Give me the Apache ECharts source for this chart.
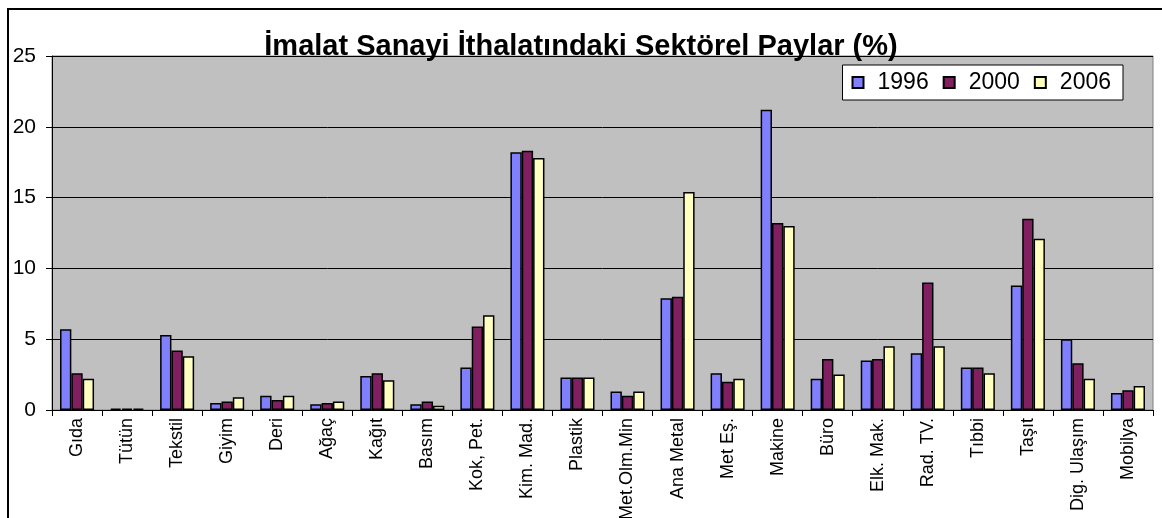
<!DOCTYPE html>
<html>
<head>
<meta charset="utf-8">
<script src="https://cdn.jsdelivr.net/npm/echarts@6/dist/echarts.min.js"></script>
<style>
  html, body { margin: 0; padding: 0; background: #fff; }
  #chart { width: 1162px; height: 518px; }
</style>
</head>
<body>
<div id="chart"></div>
<script>
var sectors = ['Gıda', 'Tütün', 'Tekstil', 'Giyim', 'Deri', 'Ağaç', 'Kağıt', 'Basım',
    'Kok, Pet.', 'Kim. Mad.', 'Plastik', 'Met.Olm.Min', 'Ana Metal', 'Met Eş.', 'Makine',
    'Büro', 'Elk. Mak.', 'Rad. TV.', 'Tıbbi', 'Taşıt', 'Dig. Ulaşım', 'Mobilya'];

var years = ['1996', '2000', '2006'];

var share1996 = [5.7, 0.1, 5.3, 0.5, 1.0, 0.4, 2.4, 0.4, 3.0, 18.2, 2.3, 1.3, 7.9, 2.6, 21.2,
    2.2, 3.5, 4.0, 3.0, 8.8, 5.0, 1.2];
var share2000 = [2.6, 0.1, 4.2, 0.6, 0.7, 0.5, 2.6, 0.6, 5.9, 18.3, 2.3, 1.0, 8.0, 2.0, 13.2,
    3.6, 3.6, 9.0, 3.0, 13.5, 3.3, 1.4];
var share2006 = [2.2, 0.1, 3.8, 0.9, 1.0, 0.6, 2.1, 0.3, 6.7, 17.8, 2.3, 1.3, 15.4, 2.2, 13.0,
    2.5, 4.5, 4.5, 2.6, 12.1, 2.2, 1.7];

var yTicks = [0, 5, 10, 15, 20, 25];

var colors = ['#8080ff', '#802060', '#ffffc0'];
var fontFamily = '"Liberation Sans", Arial, sans-serif';

var chart = echarts.init(document.getElementById('chart'));

function makeSeries(name, values, color){
    return {
        name: name,
        type: 'bar',
        data: values,
        barGap: '0%',
        barCategoryGap: '32%',
        itemStyle: {
            color: color,
            borderColor: '#000',
            borderWidth: 1.5
        }
    };
}

chart.setOption({
    animation: false,
    textStyle: { fontFamily: fontFamily },
    title: {
        text: 'İmalat Sanayi İthalatındaki Sektörel Paylar (%)',
        left: 'center',
        top: 27,
        textStyle: {
            fontFamily: fontFamily,
            fontSize: 29,
            fontWeight: 'bold',
            color: '#000'
        }
    },
    /* outer chart frame */
    graphic: [{
        type: 'rect',
        z: -1,
        shape: { x: 8, y: 9, width: 1200, height: 600 },
        style: { fill: 'none', stroke: '#000', lineWidth: 2 }
    }],
    legend: {
        data: years,
        right: 39,
        top: 65,
        backgroundColor: '#fff',
        borderColor: '#000',
        borderWidth: 1,
        padding: [6, 12, 6, 9],
        itemWidth: 11,
        itemHeight: 11,
        itemGap: 14,
        icon: 'rect',
        textStyle: { fontFamily: fontFamily, fontSize: 23, color: '#000', padding: [0, 0, 0, 9] }
    },
    grid: {
        left: 52,
        top: 56,
        width: 1101,
        height: 354,
        outerBoundsMode: 'none',
        containLabel: false,
        show: true,
        backgroundColor: '#c0c0c0',
        borderColor: '#808080',
        borderWidth: 1
    },
    xAxis: {
        type: 'category',
        data: sectors,
        axisLine: { lineStyle: { color: '#000', width: 1 } },
        axisTick: { show: true, interval: 0, length: 6, lineStyle: { color: '#000' } },
        axisLabel: {
            interval: 0,
            rotate: 90,
            margin: 8,
            fontSize: 18,
            color: '#000',
            fontFamily: fontFamily
        }
    },
    yAxis: {
        type: 'value',
        min: yTicks[0],
        max: yTicks[yTicks.length - 1],
        interval: 5,
        axisLine: { show: true, lineStyle: { color: '#000', width: 1 } },
        axisTick: { show: true, length: 6, lineStyle: { color: '#000' } },
        axisLabel: { fontSize: 21, color: '#000', margin: 16, fontFamily: fontFamily },
        splitLine: { show: true, lineStyle: { color: '#000', width: 1 } }
    },
    series: [
        makeSeries(years[0], share1996, colors[0]),
        makeSeries(years[1], share2000, colors[1]),
        makeSeries(years[2], share2006, colors[2])
    ]
});
</script>
</body>
</html>
